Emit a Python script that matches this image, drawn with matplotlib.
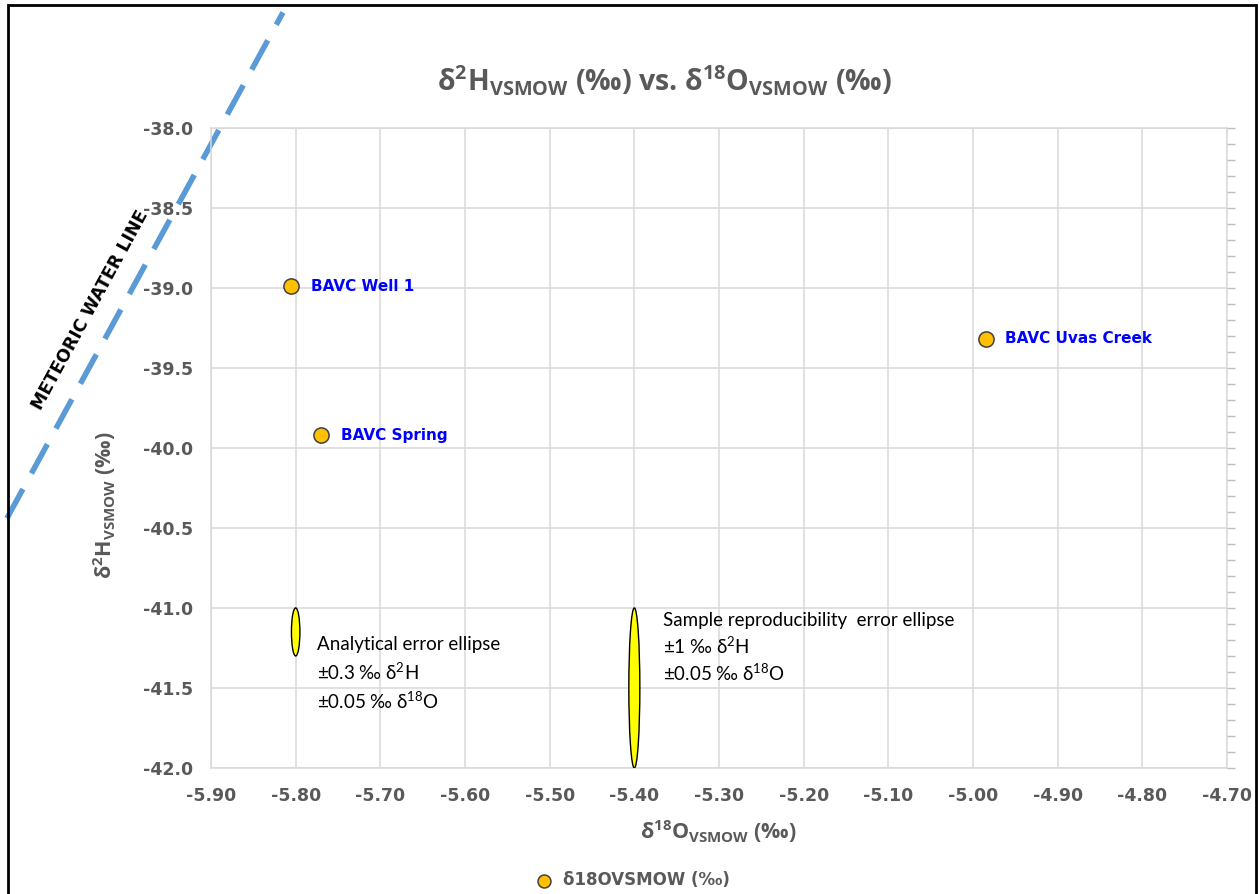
import matplotlib
matplotlib.use("Agg")
import matplotlib.pyplot as plt
from matplotlib.patches import Ellipse, Rectangle
from matplotlib.ticker import MultipleLocator, FormatStrFormatter

plt.rcParams['mathtext.default'] = 'regular'

# data
site_names = ['BAVC Well 1', 'BAVC Spring', 'BAVC Uvas Creek']
d18o = [-5.805, -5.770, -4.985]
d2h = [-38.99, -39.92, -39.32]

# error ellipses: centre O, centre H, width (O), height (H)
ell_o = [-5.80, -5.40]
ell_h = [-41.15, -41.50]
ell_w = [0.010, 0.013]
ell_ht = [0.30, 1.00]
ell_text = ['Analytical error ellipse\n\u00b10.3 \u2030 \u03b4$^2$H\n\u00b10.05 \u2030 \u03b4$^{18}$O',
            'Sample reproducibility  error ellipse\n\u00b11 \u2030 \u03b4$^2$H\n\u00b10.05 \u2030 \u03b4$^{18}$O']

# meteoric water line (as drawn, runs off the plot)
mwl_o = [-6.141, -5.815]
mwl_h = [-40.44, -37.28]

grey = '#595959'
grid = '#D9D9D9'
head_font = 'Open Sans'

fig = plt.figure(figsize=(12.59, 8.94), dpi=100)
ax = fig.add_axes([211 / 1259, 1 - 768 / 894, (1227 - 211) / 1259, (768 - 127.7) / 894])

ax.set_xlim(-5.90, -4.70)
ax.set_ylim(-42.0, -38.0)
ax.xaxis.set_major_locator(MultipleLocator(0.1))
ax.yaxis.set_major_locator(MultipleLocator(0.5))
ax.xaxis.set_major_formatter(FormatStrFormatter('%.2f'))
ax.yaxis.set_major_formatter(FormatStrFormatter('%.1f'))
ax.grid(True, color=grid, linewidth=1.1)
ax.set_axisbelow(True)
for s in ax.spines.values():
    s.set_color(grid)
    s.set_linewidth(1.1)
ax.tick_params(length=0, labelsize=12.5, labelcolor=grey)
ax.tick_params(axis='x', pad=14)
ax.tick_params(axis='y', pad=13)
for lab in ax.get_xticklabels() + ax.get_yticklabels():
    lab.set_fontweight('bold')

# minor ticks on the right-hand side
ax2 = ax.twinx()
ax2.set_ylim(ax.get_ylim())
ax2.yaxis.set_major_locator(MultipleLocator(0.1))
ax2.tick_params(axis='y', length=6, color='#BFBFBF', labelright=False, width=1)
for s in ax2.spines.values():
    s.set_visible(False)

ax.plot(mwl_o, mwl_h, color='#5B9BD5', linewidth=4, dashes=(6, 3.2), clip_on=False, zorder=1)
ax.text(-6.043, -39.14, 'METEORIC WATER LINE', rotation=61.4, ha='center', va='center',
        fontsize=12.5, fontweight='bold', family='Liberation Sans Narrow', color='black')

for o, h, w, hh in zip(ell_o, ell_h, ell_w, ell_ht):
    ax.add_patch(Ellipse((o, h), w, hh, facecolor='#FFFF00', edgecolor='black', linewidth=1, zorder=3))
ax.text(-5.775, -41.175, ell_text[0], fontsize=13.5, family='Lato', va='top', ha='left', linespacing=1.45)
ax.text(-5.366, -41.025, ell_text[1], fontsize=13.5, family='Lato', va='top', ha='left', linespacing=1.35)

ax.scatter(d18o, d2h, s=120, color='#FFC000', edgecolor='#404040', linewidth=1.1, zorder=4,
           label='\u03b418OVSMOW (\u2030)')
for n, o, h in zip(site_names, d18o, d2h):
    ax.annotate(n, (o, h), xytext=(14, 0), textcoords='offset points', va='center',
                color='#0000FF', fontsize=11, fontweight='bold')

fig.text(0.528, 0.91, '\u03b4$^2$H$_{VSMOW}$ (\u2030) vs. \u03b4$^{18}$O$_{VSMOW}$ (\u2030)',
         ha='center', va='center', fontsize=20.5, fontweight='bold', color=grey, family=head_font)
ax.set_xlabel('\u03b4$^{18}$O$_{VSMOW}$ (\u2030)', fontsize=15.5, fontweight='bold', color=grey,
              family=head_font)
ax.set_ylabel('\u03b4$^2$H$_{VSMOW}$ (\u2030)', fontsize=15.5, fontweight='bold', color=grey,
              family=head_font)
ax.xaxis.set_label_coords(0.499, -0.078)
ax.yaxis.set_label_coords(-0.092, 0.41)

leg = ax.legend(loc='center', bbox_to_anchor=(0.411, -0.175), frameon=False, fontsize=12,
                handletextpad=0.1, markerscale=0.85)
for t in leg.get_texts():
    t.set_color(grey)
    t.set_fontweight('bold')

fig.add_artist(Rectangle((8 / 1259, -0.01), 1248 / 1259, 1 - 5 / 894 + 0.01,
                         transform=fig.transFigure, fill=False, edgecolor='black', linewidth=2))

fig.savefig('out.png', dpi=100)
